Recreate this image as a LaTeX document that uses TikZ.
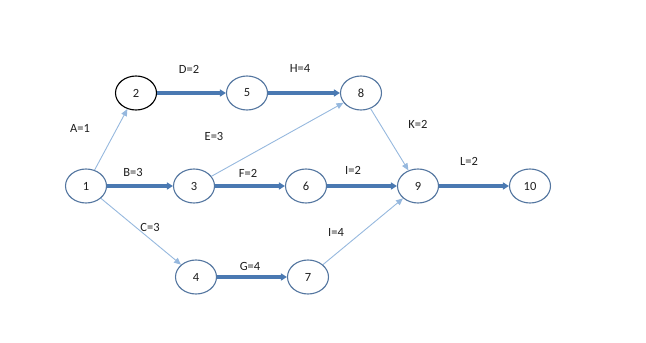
\documentclass[tikz,border=0pt]{standalone}
\usepackage{fontspec}
\setmainfont{Carlito}
\usetikzlibrary{arrows.meta,shapes.geometric}
\definecolor{ndline}{RGB}{84,118,160}
\definecolor{thickc}{RGB}{74,121,178}
\definecolor{thinc}{RGB}{150,184,222}
\definecolor{txt}{RGB}{30,30,30}
\begin{document}
\begin{tikzpicture}[x=1pt,y=-1pt,
  ev/.style={ellipse,draw=ndline,line width=1.1pt,minimum width=41pt,minimum height=34pt,inner sep=0pt,text=txt,font=\fontsize{12.5}{14}\selectfont},
  crit/.style={draw=thickc,line width=3.6pt,-{Triangle[length=6pt,width=7pt]}},
  noncrit/.style={draw=thinc,line width=0.9pt,-{Triangle[length=7pt,width=6pt]}},
  lbl/.style={font=\fontsize{12.5}{14}\selectfont,text=txt,inner sep=0pt}]
\useasboundingbox (0,0) rectangle (646,343);
\node[ev] (n1) at (86,186) {1};
\node[ev,draw=black] (n2) at (136,93) {2};
\node[ev] (n5) at (247,93) {5};
\node[ev] (n8) at (361,93) {8};
\node[ev] (n3) at (194,186) {3};
\node[ev] (n6) at (306,186) {6};
\node[ev] (n9) at (418,186) {9};
\node[ev] (n10) at (530,186) {10};
\node[ev] (n4) at (196,277) {4};
\node[ev] (n7) at (308,277) {7};
\draw[crit] (n2) -- (n5);
\draw[crit] (n5) -- (n8);
\draw[crit] (n1) -- (n3);
\draw[crit] (n3) -- (n6);
\draw[crit] (n6) -- (n9);
\draw[crit] (n9) -- (n10);
\draw[crit] (n4) -- (n7);
\draw[noncrit] (n1) -- (n2);
\draw[noncrit] (n3) -- (n8);
\draw[noncrit] (n8) -- (n9);
\draw[noncrit] (n1) -- (n4);
\draw[noncrit] (n7) -- (n9);
\node[lbl] (la) at (80,128) {A=1};
\node[lbl] (ld) at (189,69) {D=2};
\node[lbl] (lh) at (300,68) {H=4};
\node[lbl] (le) at (214,136) {E=3};
\node[lbl] (lb) at (133,172) {B=3};
\node[lbl] (lf) at (248,173) {F=2};
\node[lbl] (li) at (353,170) {I=2};
\node[lbl] (lk) at (418,124) {K=2};
\node[lbl] (ll) at (469,161) {L=2};
\node[lbl] (lc) at (150,227) {C=3};
\node[lbl] (lg) at (250,266) {G=4};
\node[lbl] (lj) at (336,232) {I=4};
\end{tikzpicture}
\end{document}
